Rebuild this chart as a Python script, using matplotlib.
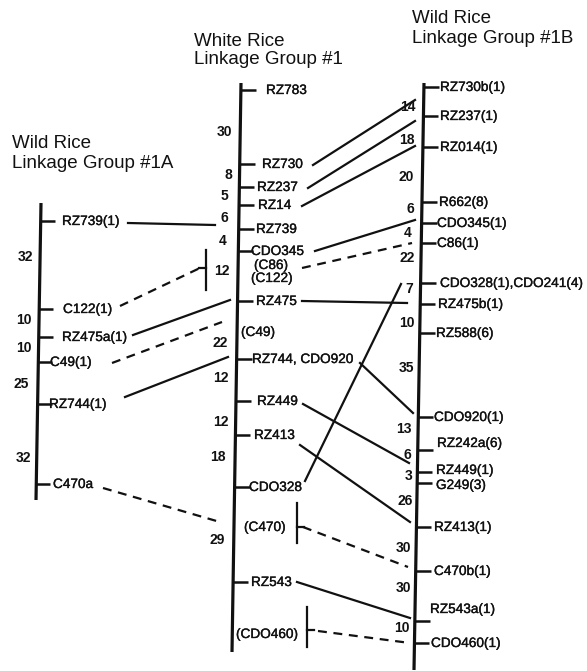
import matplotlib
matplotlib.use("Agg")
import matplotlib.pyplot as plt
import matplotlib.patheffects as pe

plt.rcParams["font.family"] = ["Liberation Sans", "DejaVu Sans"]

# --- map data: marker names and interval distances (cM) ---
a_names = ["RZ739(1)", "C122(1)", "RZ475a(1)", "C49(1)", "RZ744(1)", "C470a"]
a_dist = [32, 10, 10, 25, 32]

b_names = ["RZ783", "RZ730", "RZ237", "RZ14", "RZ739", "CDO345", "RZ475",
           "RZ744, CDO920", "RZ449", "RZ413", "CDO328", "RZ543"]
b_dist = [30, 8, 5, 6, 4, 12, 22, 12, 12, 18, 29]
b_unplaced = ["(C86)", "(C122)", "(C49)", "(C470)", "(CDO460)"]

c_names = ["RZ730b(1)", "RZ237(1)", "RZ014(1)", "R662(8)", "CDO345(1)", "C86(1)",
           "CDO328(1),CDO241(4)", "RZ475b(1)", "RZ588(6)", "CDO920(1)", "RZ242a(6)",
           "RZ449(1)", "G249(3)", "RZ413(1)", "C470b(1)", "RZ543a(1)", "CDO460(1)"]
c_dist = [14, 18, 20, 6, 4, 22, 7, 10, 35, 13, 6, 3, 26, 30, 30, 10]

titles = [("Wild Rice", "Linkage Group #1A"),
          ("White Rice", "Linkage Group #1"),
          ("Wild Rice", "Linkage Group #1B")]

# --- drawing layout (page units, y downwards) ---
a_bar = (41, 203, 36, 500)
a_y = [221, 309, 337, 362, 404, 484]
a_lab_x = [62, 63, 62, 50, 49, 53]
a_dist_pos = [(25, 257), (24, 320), (24, 348), (21, 384), (23, 458)]

b_bar = (241, 83, 232, 652)
b_y = [90, 164, 187, 205, 229, 251, 301, 359, 401, 435, 487, 582]
b_lab_x = [266, 262, 257, 258, 256, 251, 256, 252, 257, 254, 249, 251]
b_dist_pos = [(224, 132), (228, 175), (224, 196), (224, 218), (223, 241), (222, 271),
              (220, 343), (221, 378), (221, 422), (218, 457), (217, 540)]
b_unplaced_pos = [(254, 265), (251, 278), (241, 332), (244, 527), (236, 634)]

c_bar = (424, 83, 414, 670)
c_y = [87, 116, 147, 202, 223, 243, 283, 304, 333, 417, 450, 472, 483, 527, 571, 621, 643]
c_lab_y = [87, 116, 147, 202, 223, 243, 283, 304, 333, 417, 443, 470, 485, 527, 571, 609, 643]
c_lab_x = [440, 440, 440, 439, 437, 437, 440, 438, 436, 434, 437, 436, 436, 434, 434, 430, 431]
c_dist_pos = [(408, 107), (407, 140), (406, 177), (410, 209), (408, 233), (407, 258),
              (409, 289), (407, 323), (406, 368), (404, 429), (407, 455), (409, 476),
              (405, 501), (403, 548), (403, 588), (402, 628)]

title_pos = [(12, 148, 168), (194, 46, 64), (412, 23, 43)]

# brackets for markers placed within an interval: x, y top, y bottom, tick y, tick side
brackets = [(206, 250, 290, 268, -1), (297, 503, 543, 527, 1), (307, 607, 647, 630, 1)]

# connecting lines between groups: (x0, y0, x1, y1, dashed)
links = [
    (128, 223, 215, 225, False),
    (120, 306, 200, 268, True),
    (133, 335, 230, 300, False),
    (112, 363, 222, 322, True),
    (125, 397, 228, 357, False),
    (103, 488, 220, 522, True),
    (313, 165, 415, 100, False),
    (308, 188, 415, 121, False),
    (302, 206, 415, 146, False),
    (315, 251, 415, 220, False),
    (302, 268, 412, 243, True),
    (302, 301, 407, 303, False),
    (305, 481, 401, 284, False),
    (360, 363, 413, 413, False),
    (303, 404, 409, 463, False),
    (300, 445, 410, 522, False),
    (303, 527, 408, 567, True),
    (297, 582, 410, 618, False),
    (318, 631, 410, 643, True),
]

INK = "#111111"
W, H = 587, 671
heavy = [pe.withStroke(linewidth=0.25, foreground=INK)]

fig = plt.figure(figsize=(W / 100, H / 100), dpi=100)
ax = fig.add_axes([0, 0, 1, 1])
ax.set_xlim(0, W)
ax.set_ylim(H, 0)
ax.axis("off")


def bar_x(bar, y):
    x0, y0, x1, y1 = bar
    return x0 + (x1 - x0) * (y - y0) / (y1 - y0)


def draw_group(bar, names, ys, lab_x, lab_y, dists, dist_pos, tick_len=15):
    x0, y0, x1, y1 = bar
    ax.plot([x0, x1], [y0, y1], color=INK, lw=2.3, solid_capstyle="butt")
    for name, y, lx, ly in zip(names, ys, lab_x, lab_y):
        bx = bar_x(bar, y)
        ax.plot([bx, bx + tick_len], [y, y], color=INK, lw=1.8, solid_capstyle="butt")
        ax.text(lx, ly, name, fontsize=9.8, color=INK, ha="left", va="center",
                path_effects=heavy)
    for d, (dx, dy) in zip(dists, dist_pos):
        ax.text(dx, dy, str(d), fontsize=10, fontweight="bold", color=INK,
                ha="center", va="center")


draw_group(a_bar, a_names, a_y, a_lab_x, a_y, a_dist, a_dist_pos, tick_len=14)
draw_group(b_bar, b_names, b_y, b_lab_x, b_y, b_dist, b_dist_pos)
draw_group(c_bar, c_names, c_y, c_lab_x, c_lab_y, c_dist, c_dist_pos)

for name, (ux, uy) in zip(b_unplaced, b_unplaced_pos):
    ax.text(ux, uy, name, fontsize=9.8, color=INK, ha="left", va="center",
            path_effects=heavy)

for bx, by0, by1, ty, side in brackets:
    ax.plot([bx, bx], [by0, by1], color=INK, lw=1.6)
    ax.plot([bx, bx + 7 * side], [ty, ty], color=INK, lw=1.6)

for x0, y0, x1, y1, dashed in links:
    ax.plot([x0, x1], [y0, y1], color=INK, lw=1.6,
            linestyle=(0, (4, 3)) if dashed else "-")

for (l1, l2), (tx, ty1, ty2) in zip(titles, title_pos):
    ax.text(tx, ty1, l1, fontsize=13.5, color=INK, ha="left", va="baseline")
    ax.text(tx, ty2, l2, fontsize=13.5, color=INK, ha="left", va="baseline")

fig.savefig("out.png", dpi=100)
plt.close(fig)
